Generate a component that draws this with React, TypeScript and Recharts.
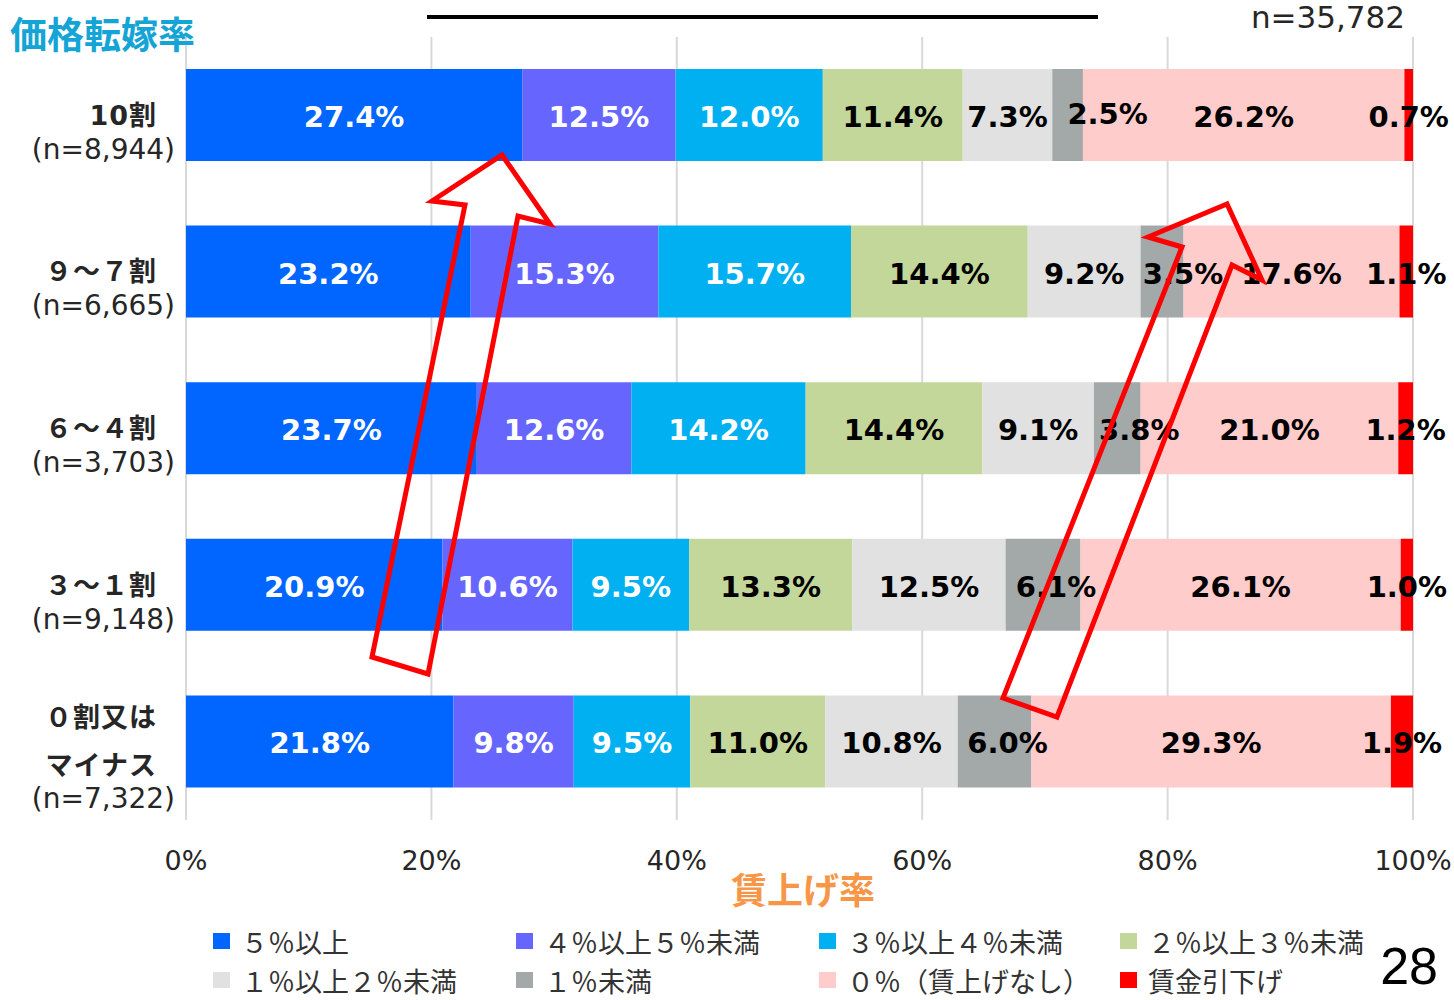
import React from 'react';
import { BarChart, Bar, XAxis, YAxis, CartesianGrid, LabelList } from 'recharts';

// ---------- data ----------
const categories = ['10割', '９～７割', '６～４割', '３～１割', '０割又は\nマイナス'];
const sampleSizes = ['(n=8,944)', '(n=6,665)', '(n=3,703)', '(n=9,148)', '(n=7,322)'];

const seriesKeys = ['w5plus', 'w4to5', 'w3to4', 'w2to3', 'w1to2', 'wUnder1', 'wZero', 'wCut'];
const seriesNames = [
  '５％以上',
  '４％以上５％未満',
  '３％以上４％未満',
  '２％以上３％未満',
  '１％以上２％未満',
  '１％未満',
  '０％（賃上げなし）',
  '賃金引下げ',
];

const w5plus = [27.4, 23.2, 23.7, 20.9, 21.8];
const w4to5 = [12.5, 15.3, 12.6, 10.6, 9.8];
const w3to4 = [12.0, 15.7, 14.2, 9.5, 9.5];
const w2to3 = [11.4, 14.4, 14.4, 13.3, 11.0];
const w1to2 = [7.3, 9.2, 9.1, 12.5, 10.8];
const wUnder1 = [2.5, 3.5, 3.8, 6.1, 6.0];
const wZero = [26.2, 17.6, 21.0, 26.1, 29.3];
const wCut = [0.7, 1.1, 1.2, 1.0, 1.9];

const xTicks = [0, 20, 40, 60, 80, 100];
const totalN = 'n=35,782';
const chartTitle = '価格転嫁率';
const xTitle = '賃上げ率';
const pageNo = '28';

// ---------- styling ----------
const colors = ['#0066FF', '#6666FF', '#00B0F0', '#C4D79B', '#E1E1E1', '#A3A8A8', '#FFCCCC', '#FF0000'];
const labelColors = ['#FFFFFF', '#FFFFFF', '#FFFFFF', '#000000', '#000000', '#000000', '#000000', '#000000'];
// horizontal / vertical nudges of some data labels (px), as in the original
const labelNudge: Record<string, number[]> = {
  wUnder1: [40, 21, 22, 13, 13],
};
const labelNudgeY: Record<string, number[]> = {
  wUnder1: [-3, 0, 0, 0, 0],
};

const seriesValues = [w5plus, w4to5, w3to4, w2to3, w1to2, wUnder1, wZero, wCut];
const rows = categories.map((c, i) => {
  const r: any = { category: c, n: sampleSizes[i] };
  seriesKeys.forEach((k, j) => {
    r[k] = seriesValues[j][i];
  });
  return r;
});

const LATIN = '"DejaVu Sans", "Noto Sans CJK JP", sans-serif';
const CJK = '"Noto Sans CJK JP", "DejaVu Sans", sans-serif';

const makeLabel = (key: string, color: string) => (props: any) => {
  const vb = props.viewBox || {};
  const x = Number(props.x ?? vb.x);
  const y = Number(props.y ?? vb.y);
  const w = Number(props.width ?? vb.width);
  const h = Number(props.height ?? vb.height);
  const idx = Number(props.index ?? 0);
  const nudge = labelNudge[key] ? labelNudge[key][idx] || 0 : 0;
  const nudgeY = labelNudgeY[key] ? labelNudgeY[key][idx] || 0 : 0;
  return (
    <text
      x={x + w / 2 + nudge}
      y={y + h / 2 + 2 + nudgeY}
      textAnchor="middle"
      dominantBaseline="central"
      fill={color}
      fontFamily={LATIN}
      fontWeight="bold"
      fontSize={29}
    >
      {Number(props.value).toFixed(1)}%
    </text>
  );
};

const YTick = (props: any) => {
  const { y, payload, index } = props;
  const lines: string[] = String(payload.value).split('\n');
  const k = lines.length;
  const start = -(k - 1) * 24;
  const nY = start + (k - 1) * 48 + (k > 1 ? 33 : 34);
  const idx = categories.indexOf(payload.value);
  return (
    <g>
      {lines.map((ln, i) => (
        <text
          key={i}
          x={157}
          y={y + start + i * 48}
          textAnchor="end"
          dominantBaseline="central"
          fontFamily={LATIN}
          fontWeight="bold"
          fontSize={27}
          letterSpacing={1}
          fill="#262626"
        >
          {ln}
        </text>
      ))}
      <text x={175} y={y + nY} textAnchor="end" dominantBaseline="central" fontFamily={LATIN} fontSize={28} fill="#262626">
        {sampleSizes[idx >= 0 ? idx : index]}
      </text>
    </g>
  );
};

const XTick = (props: any) => {
  const { x, payload } = props;
  return (
    <text x={x} y={860} textAnchor="middle" dominantBaseline="central" fontFamily={LATIN} fontSize={27} fill="#262626">
      {payload.value}%
    </text>
  );
};

const legendCols = [213, 516, 819, 1120];
const legendRows = [941, 980];

export default function App() {
  return (
    <div style={{ position: 'absolute', left: 0, top: 0, width: 1454, height: 1000, background: '#fff' }}>
      <BarChart
        width={1454}
        height={1000}
        data={rows}
        layout="vertical"
        margin={{ top: 37, right: 41, bottom: 130, left: 0 }}
        barSize={92}
      >
        <CartesianGrid horizontal={false} stroke="#D9D9D9" strokeWidth={2} />
        <XAxis
          type="number"
          domain={[0, 100]}
          ticks={xTicks}
          allowDataOverflow
          axisLine={false}
          tickLine={false}
          height={50}
          tick={<XTick />}
        />
        <YAxis
          type="category"
          dataKey="category"
          width={186}
          axisLine={false}
          tickLine={false}
          tick={<YTick />}
          interval={0}
        />
        {seriesKeys.map((k, j) => (
          <Bar key={k} dataKey={k} name={seriesNames[j]} stackId="a" fill={colors[j]} isAnimationActive={false}>
            <LabelList dataKey={k} content={makeLabel(k, labelColors[j])} />
          </Bar>
        ))}
      </BarChart>
      <svg
        width={1454}
        height={1000}
        style={{ position: 'absolute', left: 0, top: 0, pointerEvents: 'none' }}
      >
        <text x={10} y={33} dominantBaseline="central" fontFamily={CJK} fontWeight="bold" fontSize={37} fill="#14A5D6">
          {chartTitle}
        </text>
        <line x1={427} y1={17} x2={1098} y2={17} stroke="#000" strokeWidth={4} />
        <text x={1405} y={17} textAnchor="end" dominantBaseline="central" fontFamily={LATIN} fontSize={31} fill="#262626">
          {totalN}
        </text>
        <text x={803} y={888} textAnchor="middle" dominantBaseline="central" fontFamily={CJK} fontWeight="bold" fontSize={36} fill="#F79646">
          {xTitle}
        </text>
        {seriesNames.map((nm, j) => {
          const cx = legendCols[j % 4];
          const cy = legendRows[Math.floor(j / 4)];
          return (
            <g key={nm}>
              <rect x={cx} y={cy - 8} width={17} height={16} fill={colors[j]} />
              <text x={cx + 28} y={cy} dominantBaseline="central" fontFamily={CJK} fontSize={27} fill="#333">
                {nm}
              </text>
            </g>
          );
        })}
        <text x={1438} y={966} textAnchor="end" dominantBaseline="central" fontFamily='"Liberation Sans", Arial, sans-serif' fontSize={52} fill="#000">
          {pageNo}
        </text>
        {/* annotation arrows */}
        <polygon
          points="372,657 428,674 518,216 550,224 502,155 432,201 465,205"
          fill="none"
          stroke="#FF0000"
          strokeWidth={5}
          strokeLinejoin="miter"
        />
        <polygon
          points="1003,698 1057,717 1232,265 1262,280 1227,204 1148,237 1182,247"
          fill="none"
          stroke="#FF0000"
          strokeWidth={5}
          strokeLinejoin="miter"
        />
      </svg>
    </div>
  );
}
